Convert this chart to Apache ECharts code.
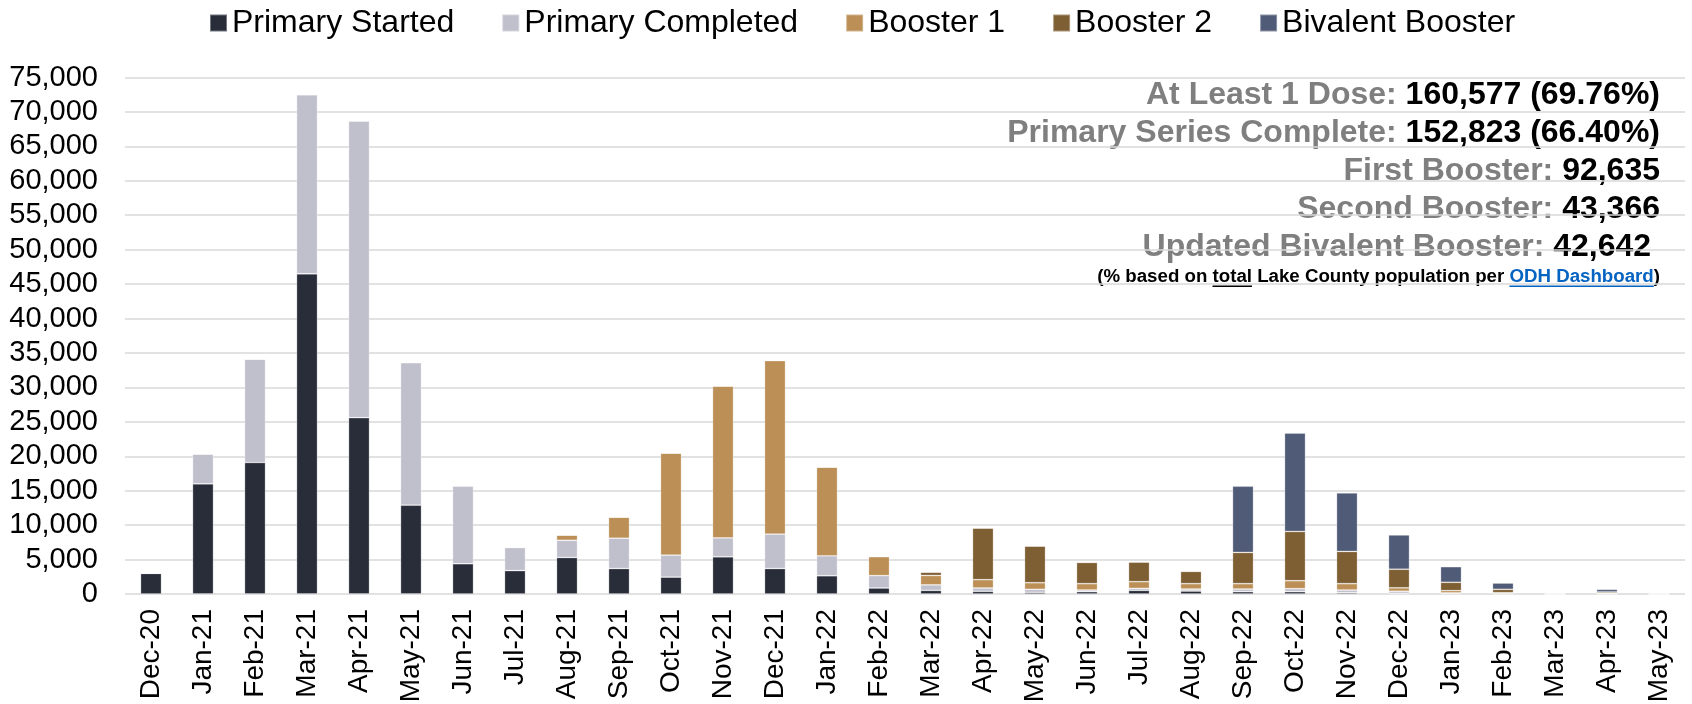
<!DOCTYPE html>
<html>
<head>
<meta charset="utf-8">
<script src="https://cdn.jsdelivr.net/npm/echarts@6/dist/echarts.min.js"></script>
<style>
html,body{margin:0;padding:0;background:#fff;}
#chart{width:1692px;height:704px;}
</style>
</head>
<body>
<div id="chart"></div>
<script>
const categories = ['Dec-20','Jan-21','Feb-21','Mar-21','Apr-21','May-21','Jun-21','Jul-21','Aug-21','Sep-21','Oct-21','Nov-21','Dec-21','Jan-22','Feb-22','Mar-22','Apr-22','May-22','Jun-22','Jul-22','Aug-22','Sep-22','Oct-22','Nov-22','Dec-22','Jan-23','Feb-23','Mar-23','Apr-23','May-23'];
const primaryStarted   = [3000,16000,19100,46500,25600,12900,4400,3400,5300,3700,2450,5400,3700,2650,870,530,390,240,340,530,430,340,340,190,100,100,30,0,10,0];
const primaryCompleted = [0,4330,15000,26000,43100,20700,11300,3350,2500,4400,3200,2750,5000,2900,1800,800,480,440,240,290,290,380,430,390,300,60,30,0,10,0];
const booster1         = [0,0,0,0,0,0,0,0,750,3050,14800,22050,25200,12870,2760,1360,1210,960,920,970,780,780,1160,920,500,330,130,0,80,0];
const booster2         = [0,0,0,0,0,0,0,0,0,0,0,0,0,0,0,480,7500,5320,3090,2850,1790,4540,7150,4680,2700,1210,490,0,190,0];
const bivalent         = [0,0,0,0,0,0,0,0,0,0,0,0,0,0,0,0,0,0,0,0,0,9610,14300,8500,4980,2270,910,0,390,0];
const seriesNames = ['Primary Started','Primary Completed','Booster 1','Booster 2','Bivalent Booster'];
const seriesColors = ['#292d3a','#c0bfcc','#bb8f55','#7e5e33','#505b77'];
const summaryLabels = ['At Least 1 Dose: ','Primary Series Complete: ','First Booster: ','Second Booster: ','Updated Bivalent Booster: '];
const summaryValues = ['160,577 (69.76%)','152,823 (66.40%)','92,635','43,366','42,642 '];
const noteParts = ['(% based on ','total',' Lake County population per ','ODH Dashboard',')'];

const FONT = '"Liberation Sans", Arial, Helvetica, sans-serif';
const chart = echarts.init(document.getElementById('chart'), null, {renderer:'canvas'});

const dataArrays = [primaryStarted, primaryCompleted, booster1, booster2, bivalent];
const series = dataArrays.map((d,i)=>({
  name: seriesNames[i],
  type: 'bar',
  stack: 'total',
  barWidth: 21,
  data: d,
  itemStyle: {color: seriesColors[i], borderColor: 'rgba(255,255,255,0.35)', borderWidth: 0.8},
  emphasis: {disabled: true}
}));

const graphics = [];
const lineY = [95.5, 133.5, 171.5, 209.5, 247.5];
const RIGHT = 1660;
summaryLabels.forEach((lab,i)=>{
  graphics.push({
    type:'text', x: RIGHT, y: lineY[i], silent:true,
    style:{
      text: '{g|'+lab+'}{b|'+summaryValues[i]+'}',
      align:'right', verticalAlign:'middle',
      rich:{
        g:{fontFamily:FONT, fontWeight:'bold', fontSize:32, fill:'#7f7f7f'},
        b:{fontFamily:FONT, fontWeight:'bold', fontSize:32, fill:'#000'}
      }
    }
  });
});
const noteY = 277;
const NOTE_FS = 18.7;
const noteFont = 'bold ' + NOTE_FS + 'px ' + FONT;
const cv = document.createElement('canvas').getContext('2d');
cv.font = noteFont;
const fullNote = noteParts.join('');
const W = cv.measureText(fullNote).width;
const startX = RIGHT - W;
graphics.push({
  type:'text', x: RIGHT, y: noteY, silent:true,
  style:{
    text: '{n|'+noteParts[0]+'}{n|'+noteParts[1]+'}{n|'+noteParts[2]+'}{l|'+noteParts[3]+'}{n|'+noteParts[4]+'}',
    align:'right', verticalAlign:'middle',
    rich:{
      n:{fontFamily:FONT, fontWeight:'bold', fontSize:NOTE_FS, fill:'#000'},
      l:{fontFamily:FONT, fontWeight:'bold', fontSize:NOTE_FS, fill:'#0563c1'}
    }
  }
});
const off1 = cv.measureText(noteParts[0]).width;
const w1 = cv.measureText(noteParts[1]).width;
const off2 = cv.measureText(noteParts[0]+noteParts[1]+noteParts[2]).width;
const w2 = cv.measureText(noteParts[3]).width;
graphics.push({type:'rect', silent:true, shape:{x:startX+off1, y:noteY+8.5, width:w1, height:1.6}, style:{fill:'#000'}});
graphics.push({type:'rect', silent:true, shape:{x:startX+off2, y:noteY+8.5, width:w2, height:1.6}, style:{fill:'#0563c1'}});

chart.setOption({
  animation:false,
  backgroundColor:'#fff',
  textStyle:{fontFamily:FONT},
  legend:{
    data: seriesNames,
    left: 204, top: 2,
    icon:'rect', itemWidth:17, itemHeight:17, itemGap:47,
    textStyle:{fontFamily:FONT, fontSize:32, color:'#000'},
    selectedMode:false
  },
  grid:{left:125, top:77.5, width:1560, height:516.5, containLabel:false, outerBoundsMode:'none'},
  xAxis:{
    type:'category', data: categories,
    axisLine:{show:false}, axisTick:{show:false},
    axisLabel:{rotate:90, fontSize:28, color:'#000', fontFamily:FONT, margin:15, interval:0}
  },
  yAxis:{
    type:'value', min:0, max:75000, interval:5000,
    axisLine:{show:false}, axisTick:{show:false},
    axisLabel:{fontSize:29, color:'#000', fontFamily:FONT, margin:27, formatter:v=>v.toLocaleString('en-US')},
    splitLine:{lineStyle:{color:'#d9d9d9', width:1.5}}
  },
  series: series,
  graphic: graphics
});
</script>
</body>
</html>
